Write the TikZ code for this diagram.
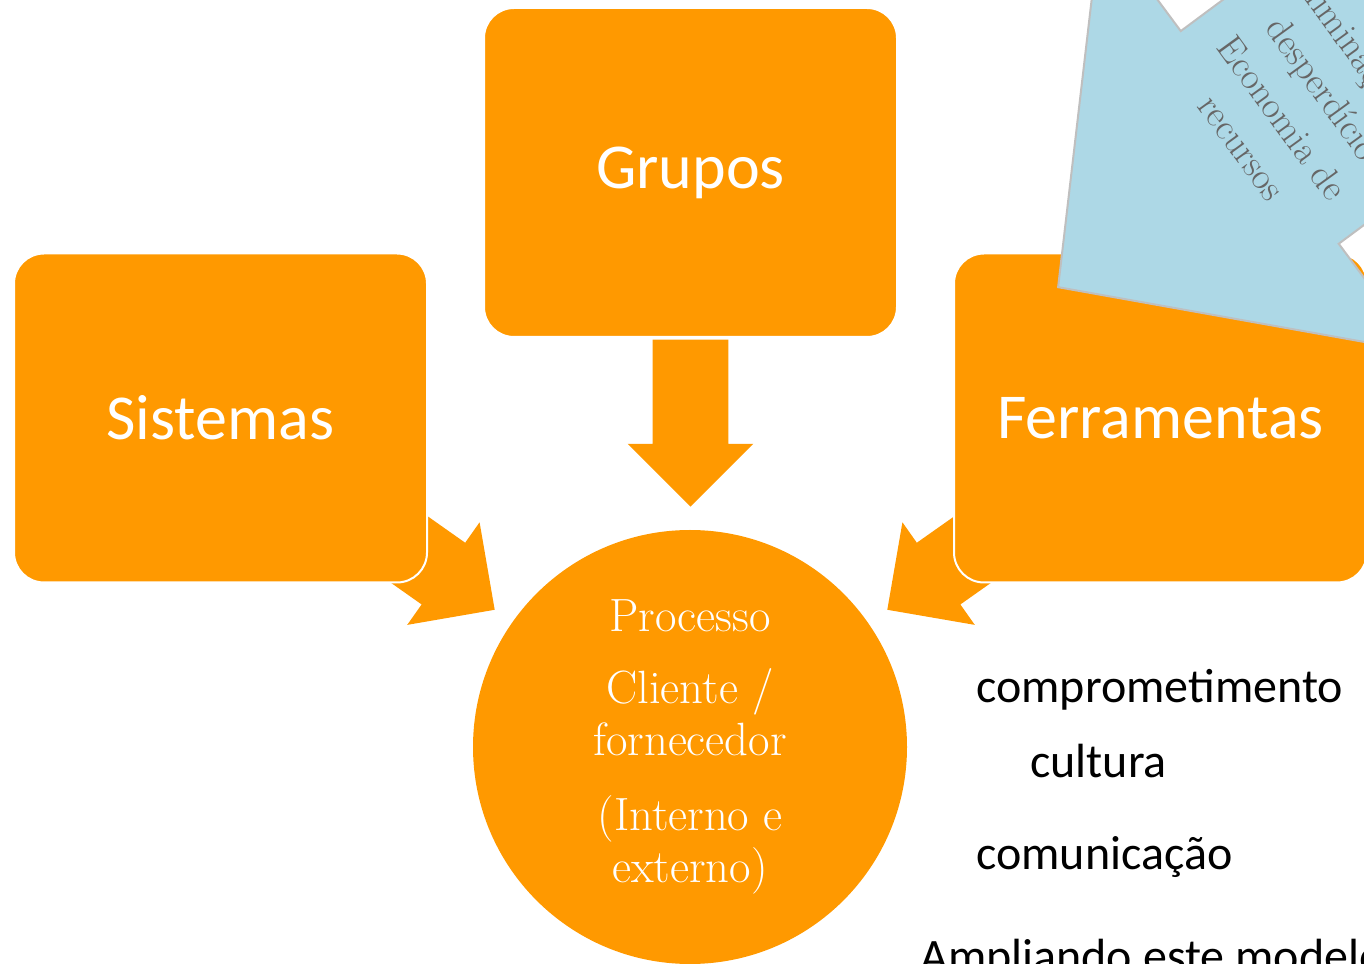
\documentclass[tikz,border=0pt]{standalone}
\usepackage{fontspec}
\setsansfont{Carlito}
\usepackage{tikz}
\usetikzlibrary{shapes.arrows}
\definecolor{boxorange}{RGB}{255,153,0}
\definecolor{arrowblue}{RGB}{173,216,230}
\definecolor{edgegray}{RGB}{191,191,191}
\definecolor{notegray}{RGB}{102,102,102}
\tikzset{main box/.style={rectangle, fill=boxorange, draw=white, line width=1.5pt, rounded corners=22.5pt,
    minimum width=309.75pt, minimum height=246.75pt, inner sep=0pt, text=white,
    font=\sffamily\fontsize{48}{58}\selectfont},
  flow arrow/.style={single arrow, fill=boxorange, inner xsep=0pt, inner ysep=28.125pt, anchor=tip,
    single arrow tip angle=90, minimum height=125.25pt, single arrow head extend=18.75pt},
  side word/.style={anchor=base west, inner sep=0pt, font=\sffamily\fontsize{36}{43}\selectfont},}

\begin{document}
\begin{tikzpicture}[x=0.75pt, y=0.75pt]
        \useasboundingbox (0,0) rectangle (1364,964);
        \clip (0,0) rectangle (1364,964);
        % Arrows
        \node[flow arrow, rotate=-90] (downarr) at (690.5,457) {};
        \node[flow arrow, rotate=-35.2] (leftarr) at (495,354) {};
        \node[flow arrow, rotate=215.2] (rightarr) at (887,354) {};
        % Nodes
        \node[main box] (grupos) at (690.5,791.5) {Grupos};
        \node[main box] (sistemas) at (220.5,546) {Sistemas};
        \node[main box] (ferram) at (1160.5,546) {Ferramentas};
        \node[circle, fill=boxorange, minimum size=325.5pt, inner sep=0pt, text=white, align=center,
            font=\fontsize{35}{39}\selectfont] (proc) at (690,217)
            {Processo\\[15pt]Cliente /\\fornecedor\\[17pt](Interno e\\externo)};
        % Blue arrow
        \node[single arrow, fill=arrowblue, draw=edgegray, line width=1.5pt, inner xsep=0pt,
            inner ysep=98.6pt, anchor=tip, single arrow tip angle=93.5, minimum height=525pt,
            single arrow head extend=100.9pt, rotate=216.6] (bluearr) at (1057,676) {};
        \node[rotate=-54, align=center, text=notegray, font=\fontsize{28}{37.5}\selectfont] (bluetxt)
            at (1303,861) {Eliminação de\\desperdício\\Economia de\\recursos};
        % Words
        \node[side word] (compr) at (976,261) {comprometimento};
        \node[side word] (cult) at (1030,186) {cultura};
        \node[side word] (comun) at (976,94) {comunicação};
        \node[side word] (ampl) at (920,-8) {Ampliando este modelo};
    \end{tikzpicture}
\end{document}
